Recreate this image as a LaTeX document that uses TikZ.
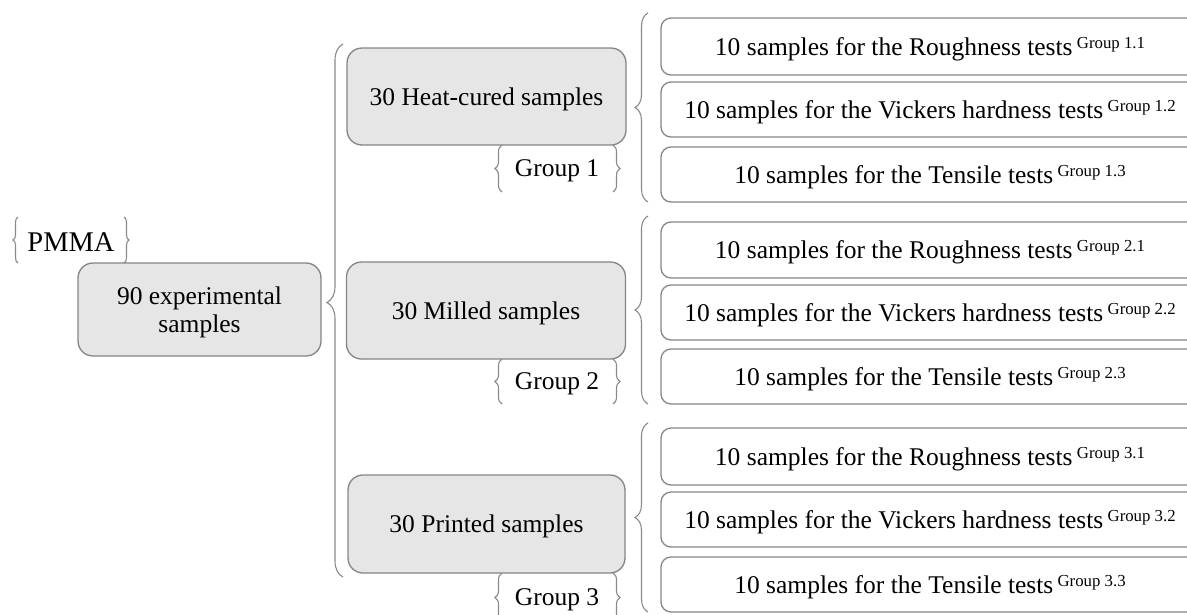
\documentclass[tikz,border=0pt]{standalone}
\usepackage{fontspec}
\setmainfont{Liberation Serif}
\usetikzlibrary{decorations.pathreplacing}
\definecolor{boxfill}{HTML}{E6E6E6}
\definecolor{boxline}{HTML}{858585}
\definecolor{braceline}{HTML}{8A8A8A}
\newcommand{\grpsup}[1]{\,\raisebox{7pt}[0pt][0pt]{\fontsize{16.8}{17}\selectfont Group~#1}}
\tikzset{
  mainfont/.style={font=\fontsize{25.5}{28}\selectfont, text depth=0pt},
  graybox/.style={draw=boxline, line width=1.3pt, fill=boxfill, rounded corners=15pt,
    align=center, mainfont, inner sep=0pt},
  testbox/.style={draw=boxline, line width=1.3pt, fill=white, rounded corners=10pt,
    mainfont, inner sep=0pt, minimum width=538pt},
  curly/.style={draw=braceline, line width=1.1pt, decorate,
    decoration={brace, amplitude=#1}},
  curly/.default=13pt,
}
\begin{document}
\begin{tikzpicture}[x=1pt,y=-1pt]
\useasboundingbox (0,0) rectangle (1187,614);
\clip (0,0) rectangle (1187,614);

% PMMA
\node[font=\fontsize{28.5}{30}\selectfont, text depth=0pt, inner sep=0pt] (pmma) at (71,242) {PMMA};
\coordinate (pl1) at (18,263); \coordinate (pl2) at (18,217);
\coordinate (pr1) at (124,217); \coordinate (pr2) at (124,263);
\draw[curly=5pt] (pl1) -- (pl2);
\draw[curly=5pt] (pr1) -- (pr2);

% total
\node[graybox, minimum width=243pt, minimum height=93pt] (total) at (199.5,309.5)
  {90 experimental\\samples};

% big brace
\coordinate (bb1) at (343,577); \coordinate (bb2) at (343,44);
\draw[curly=16pt, decoration={aspect=0.515}] (bb1) -- (bb2);

% middle boxes
\node[graybox, minimum width=279pt, minimum height=97pt] (heat) at (486.5,96.5) {30 Heat-cured samples};
\node[graybox, minimum width=279pt, minimum height=97pt] (milled) at (486,310.5) {30 Milled samples};
\node[graybox, minimum width=277pt, minimum height=98pt] (printed) at (486.5,524) {30 Printed samples};

% group labels
\node[mainfont, inner sep=0pt] (g1) at (557,168.5) {Group 1};
\node[mainfont, inner sep=0pt] (g2) at (557,381.5) {Group 2};
\node[mainfont, inner sep=0pt] (g3) at (557,597) {Group 3};
\foreach \ya/\yb in {145/192, 359/404, 573/622}{
  \draw[curly=7pt] (502,\yb) -- (502,\ya);
  \draw[curly=7pt] (613,\ya) -- (613,\yb);
}

% right braces
\coordinate (r1a) at (648,202); \coordinate (r1b) at (648,13);
\coordinate (r2a) at (648,404); \coordinate (r2b) at (648,216);
\coordinate (r3a) at (648,612); \coordinate (r3b) at (648,423);
\draw[curly] (r1a) -- (r1b);
\draw[curly] (r2a) -- (r2b);
\draw[curly] (r3a) -- (r3b);

% test boxes
\node[testbox, minimum height=57pt] (t11) at (930,46.5) {10 samples for the Roughness tests\grpsup{1.1}};
\node[testbox, minimum height=55pt] (t12) at (930,109.5) {10 samples for the Vickers hardness tests\grpsup{1.2}};
\node[testbox, minimum height=55pt] (t13) at (930,174.5) {10 samples for the Tensile tests\grpsup{1.3}};
\node[testbox, minimum height=56pt] (t21) at (930,250) {10 samples for the Roughness tests\grpsup{2.1}};
\node[testbox, minimum height=55pt] (t22) at (930,312.5) {10 samples for the Vickers hardness tests\grpsup{2.2}};
\node[testbox, minimum height=55pt] (t23) at (930,376.5) {10 samples for the Tensile tests\grpsup{2.3}};
\node[testbox, minimum height=57pt] (t31) at (930,456.5) {10 samples for the Roughness tests\grpsup{3.1}};
\node[testbox, minimum height=55pt] (t32) at (930,519.5) {10 samples for the Vickers hardness tests\grpsup{3.2}};
\node[testbox, minimum height=55pt] (t33) at (930,584.5) {10 samples for the Tensile tests\grpsup{3.3}};
\end{tikzpicture}
\end{document}
